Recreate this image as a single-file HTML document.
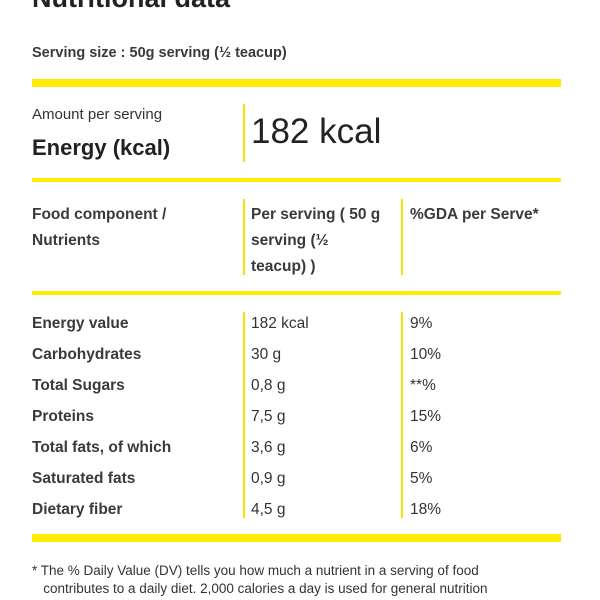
<!DOCTYPE html>
<html><head><meta charset="utf-8"><style>
body{margin:0;width:600px;height:600px;overflow:hidden;background:#fff;font-family:"Liberation Sans",sans-serif;color:#333;position:relative}
div{position:absolute;white-space:nowrap}
.y{background:#ffec00}
.v{background:#f5e400;width:2px}
.b{font-weight:bold;color:#3a3a3a}
.r{font-size:15.5px;line-height:20px}
</style></head><body>
<div class="b" style="left:32px;top:-17px;font-size:27px;color:#222">Nutritional data</div>
<div class="b" style="left:32px;top:45px;font-size:14.5px">Serving size : 50g serving (½ teacup)</div>
<div class="y" style="left:32px;top:79px;width:529px;height:8px"></div>
<div style="left:32px;top:106px;font-size:15px">Amount per serving</div>
<div class="b" style="left:32px;top:135px;font-size:22px;color:#222">Energy (kcal)</div>
<div class="v" style="left:243px;top:104px;height:58px"></div>
<div style="left:251px;top:112px;font-size:35px;color:#222">182 kcal</div>
<div class="y" style="left:32px;top:178px;width:529px;height:4px"></div>
<div class="b r" style="left:32px;top:202px;line-height:26px">Food component /<br>Nutrients</div>
<div class="v" style="left:243px;top:199px;height:76px"></div>
<div class="b r" style="left:251px;top:202px;line-height:26px">Per serving ( 50 g<br>serving (½<br>teacup) )</div>
<div class="v" style="left:401px;top:199px;height:76px"></div>
<div class="b r" style="left:410px;top:202px;line-height:26px">%GDA per Serve*</div>
<div class="y" style="left:32px;top:291px;width:529px;height:4px"></div>
<div class="v" style="left:243px;top:312px;height:206px"></div>
<div class="v" style="left:401px;top:312px;height:206px"></div>
<div class="y" style="left:32px;top:534px;width:529px;height:8px"></div>
<div style="left:32px;top:562px;font-size:13.5px;line-height:18px">* The % Daily Value (DV) tells you how much a nutrient in a serving of food<br>&nbsp;&nbsp;&nbsp;contributes to a daily diet. 2,000 calories a day is used for general nutrition</div>
<script>
const nutrients=["Energy value","Carbohydrates","Total Sugars","Proteins","Total fats, of which","Saturated fats","Dietary fiber"];
const perServing=["182 kcal","30 g","0,8 g","7,5 g","3,6 g","0,9 g","4,5 g"];
const gda=["9%","10%","**%","15%","6%","5%","18%"];
const host=document.body;
nutrients.forEach((n,i)=>{
  const top=314+i*31;
  const cols=[[n,32,true],[perServing[i],251,false],[gda[i],410,false]];
  cols.forEach((c,j)=>{
    const d=document.createElement('div');
    d.className='r'+(c[2]?' b':'');
    d.style.left=c[1]+'px';d.style.top=top+'px';
    d.textContent=c[0];
    
    
    host.appendChild(d);
  });
});
</script>
</body></html>
